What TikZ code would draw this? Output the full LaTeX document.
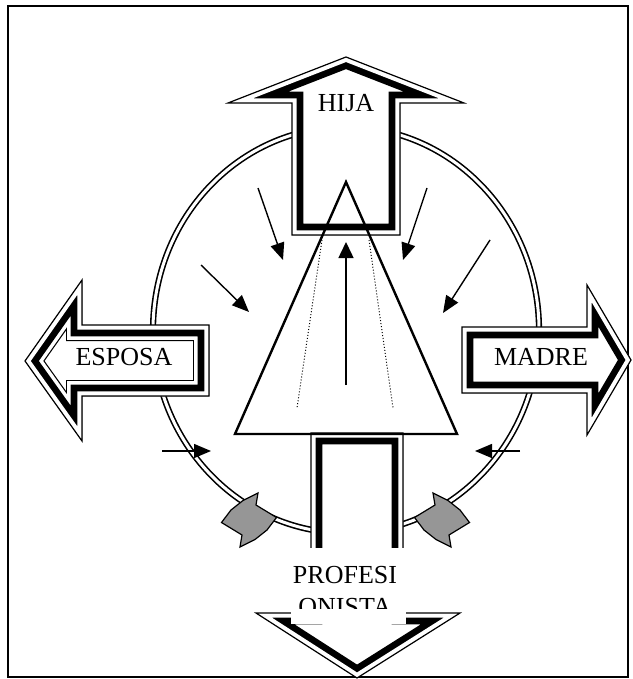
\documentclass[tikz,border=0pt]{standalone}
\usepackage{fontspec}
\setmainfont{Liberation Serif}
\usetikzlibrary{arrows.meta}
\definecolor{grayfill}{RGB}{150,150,150}
\tikzset{
  frame/.style={line width=1pt},
  ring/.style={line width=0.8pt, double=white, double distance=1.5pt},
  inarrow/.style={line width=0.7pt, -{Triangle[length=8.5pt,width=7pt]}},
  uparrow/.style={line width=0.75pt, -{Triangle[length=8pt,width=7.5pt]}},
  tri/.style={line width=1.2pt, line join=miter},
  dotline/.style={line width=0.5pt, dash pattern=on 0.5pt off 1pt},
  grayarrow/.style={fill=grayfill, draw=black, line width=0.6pt, line join=miter},
  txt/.style={font=\fontsize{13pt}{15pt}\selectfont, inner sep=0pt},
}
\newcommand{\thinthick}[1]{%
  \fill[white] #1 -- cycle;
  \begin{scope}
    \clip #1 -- cycle;
    \draw[line width=11.3pt, line join=miter] #1 -- cycle;
    \draw[white, line width=4.7pt, line join=miter] #1 -- cycle;
  \end{scope}
  \draw[line width=0.6pt, line join=miter] #1 -- cycle;
}
\newcommand{\thinthickthin}[1]{%
  \fill[white] #1 -- cycle;
  \begin{scope}
    \clip #1 -- cycle;
    \draw[line width=16.0pt, line join=miter] #1 -- cycle;
    \draw[white, line width=14.8pt, line join=miter] #1 -- cycle;
    \draw[line width=11.3pt, line join=miter] #1 -- cycle;
    \draw[white, line width=4.7pt, line join=miter] #1 -- cycle;
  \end{scope}
  \draw[line width=0.6pt, line join=miter] #1 -- cycle;
}
\newcommand{\grayshape}{%
  \draw[grayarrow] (-6,-19.5) -- (9,-27) -- (7,-15) -- (27.5,-2.5) -- (18,10)
    -- (6,19.5) -- (-9,27) -- (-7,15) -- (-27.5,2.5) -- (-18,-10) -- cycle;
}
\begin{document}
\begin{tikzpicture}[x=0.5pt,y=-0.5pt]
\useasboundingbox (0,0) rectangle (632,679);
% frame
\draw[frame] (8,6) rectangle (628,677);
% ring
\draw[ring] (346,330) ellipse [x radius=96.5pt, y radius=101.5pt];
% inward arrows
\coordinate (a1s) at (258,188); \coordinate (a1e) at (283,260);
\coordinate (a2s) at (201,265); \coordinate (a2e) at (249,312);
\coordinate (a3s) at (427,188); \coordinate (a3e) at (403,260);
\coordinate (a4s) at (490,240); \coordinate (a4e) at (443,313);
\coordinate (a5s) at (162,451); \coordinate (a5e) at (211,451);
\coordinate (a6s) at (520,451); \coordinate (a6e) at (475,451);
\draw[inarrow] (a1s) -- (a1e);
\draw[inarrow] (a2s) -- (a2e);
\draw[inarrow] (a3s) -- (a3e);
\draw[inarrow] (a4s) -- (a4e);
\draw[inarrow] (a5s) -- (a5e);
\draw[inarrow] (a6s) -- (a6e);
% gray double arrows
\begin{scope}[shift={(249,520)}]
  \grayshape
\end{scope}
\begin{scope}[shift={(442,520)}, xscale=-1]
  \grayshape
\end{scope}
% ESPOSA
\thinthickthin{(209,325) -- (82,325) -- (82,280) -- (25,361) -- (82,441) -- (82,396) -- (209,396)}
% MADRE
\thinthick{(462,327) -- (587,327) -- (587,285) -- (631,360) -- (587,435) -- (587,393) -- (462,393)}
% HIJA
\thinthick{(292,235) -- (292,103) -- (228,103) -- (346,57) -- (464,103) -- (400,103) -- (400,235)}
% PROFESIONISTA
\thinthick{(311,433) -- (403,433) -- (403,613) -- (460,613) -- (357,678) -- (256,613) -- (311,613)}
% text labels
\node[txt, anchor=base] (hija) at (346,112) {HIJA};
\node[txt, anchor=base] (esposa) at (124,365) {ESPOSA};
\node[txt, anchor=base] (madre) at (541,365) {MADRE};
\fill[white] (291,548) rectangle (406,624);
\begin{scope}
  \clip (280,548) rectangle (420,608);
  \node[txt, anchor=base] (prof1) at (345,583) {PROFESI};
  \node[txt, anchor=base] (prof2) at (345,615) {ONISTA};
\end{scope}
% triangle and inner lines
\coordinate (tA) at (346,182);
\coordinate (tL) at (235,434);
\coordinate (tR) at (457,434);
\draw[tri] (tA) -- (tR) -- (tL) -- cycle;
\coordinate (d1s) at (322,240); \coordinate (d1e) at (297,408);
\coordinate (d2s) at (369,240); \coordinate (d2e) at (393,408);
\draw[dotline] (d1s) -- (d1e);
\draw[dotline] (d2s) -- (d2e);
\coordinate (vs) at (346,385); \coordinate (ve) at (346,242);
\draw[uparrow] (vs) -- (ve);
\end{tikzpicture}
\end{document}
